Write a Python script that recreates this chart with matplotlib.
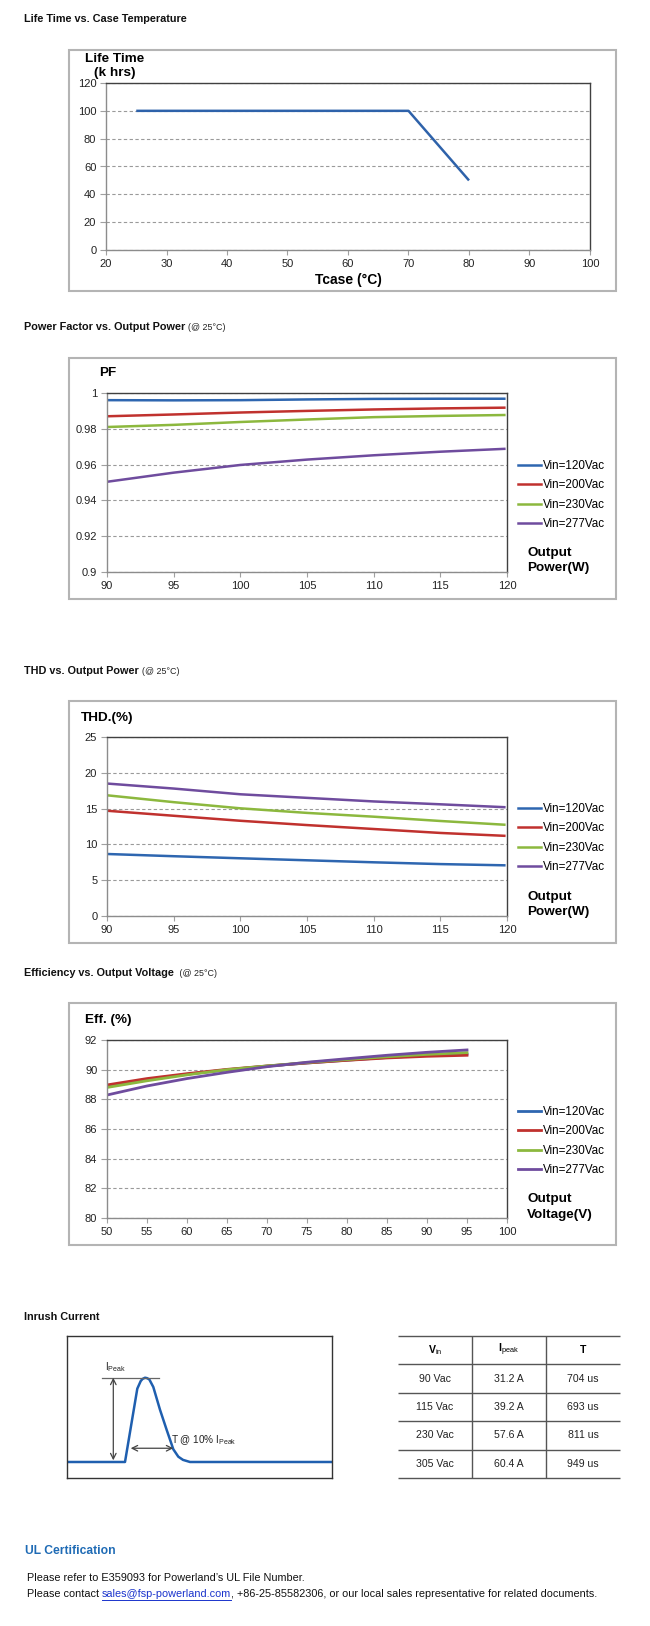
import numpy as np
import matplotlib
matplotlib.use("Agg")
import matplotlib.pyplot as plt
from matplotlib.patches import Rectangle
from matplotlib.lines import Line2D

plt.rcParams['font.family'] = ['Liberation Sans', 'DejaVu Sans']
plt.rcParams['mathtext.fontset'] = 'custom'
plt.rcParams['mathtext.rm'] = 'Liberation Sans'
plt.rcParams['mathtext.it'] = 'Liberation Sans:italic'
plt.rcParams['mathtext.bf'] = 'Liberation Sans:bold'

W, H, DPI = 650, 1626, 100

# ---------------- data ----------------
life_temp = [25, 70, 80]
life_khrs = [100, 100, 50]

vin_labels = ["Vin=120Vac", "Vin=200Vac", "Vin=230Vac", "Vin=277Vac"]
vin_colors = ["#2E66B0", "#C0312E", "#8CB83E", "#6F4C9E"]

pf_power = [90, 95, 100, 105, 110, 115, 119.8]
pf_120 = [0.9960, 0.9959, 0.9960, 0.9964, 0.9967, 0.9968, 0.9968]
pf_200 = [0.9870, 0.9880, 0.9891, 0.9900, 0.9908, 0.9914, 0.9918]
pf_230 = [0.9810, 0.9822, 0.9838, 0.9852, 0.9865, 0.9872, 0.9877]
pf_277 = [0.9504, 0.9555, 0.9598, 0.9628, 0.9652, 0.9672, 0.9688]

thd_power = [90, 95, 100, 105, 110, 115, 119.8]
thd_120 = [8.66, 8.35, 8.06, 7.78, 7.50, 7.25, 7.08]
thd_200 = [14.7, 14.0, 13.3, 12.7, 12.15, 11.6, 11.2]
thd_230 = [16.86, 15.9, 15.04, 14.4, 13.87, 13.27, 12.75]
thd_277 = [18.5, 17.8, 17.0, 16.5, 16.0, 15.6, 15.2]

eff_vout = [50, 55, 60, 65, 70, 75, 80, 85, 90, 95]
eff_120 = [88.88, 89.32, 89.69, 89.99, 90.24, 90.45, 90.64, 90.82, 90.96, 91.05]
eff_200 = [88.97, 89.40, 89.73, 90.02, 90.25, 90.45, 90.63, 90.79, 90.90, 90.97]
eff_230 = [88.80, 89.25, 89.65, 90.00, 90.25, 90.48, 90.68, 90.87, 91.03, 91.15]
eff_277 = [88.29, 88.90, 89.40, 89.82, 90.20, 90.50, 90.74, 90.97, 91.17, 91.33]

# inrush waveform sketch (time in arbitrary units, current relative to peak)
inrush_t = [-58, 0, 12.3, 15.7, 17.5, 20, 22, 24.3, 28.3, 35, 41.7, 48.3, 53.3, 58, 65, 207]
inrush_i = [0, 0, 0.87, 0.96, 0.985, 1.0, 0.995, 0.98, 0.89, 0.62, 0.38, 0.151, 0.063, 0.025, 0.0, 0]

table_head = [r"V$_{\mathrm{in}}$", r"I$_{\mathrm{peak}}$", "T"]
table_vin = ["90 Vac", "115 Vac", "230 Vac", "305 Vac"]
table_ipeak = ["31.2 A", "39.2 A", "57.6 A", "60.4 A"]
table_t = ["704 us", "693 us", "811 us", "949 us"]


# ---------------- helpers ----------------
def rect(left, top, right, bottom):
    return [left / W, 1 - bottom / H, (right - left) / W, (bottom - top) / H]


def fx(x):
    return x / W


def fy(y):
    return 1 - y / H


fig = plt.figure(figsize=(W / DPI, H / DPI), dpi=DPI)
fig.patch.set_facecolor("white")
renderer = fig.canvas.get_renderer()


def title_with_note(x, y, bold, note=None):
    t = fig.text(fx(x), fy(y), bold, fontsize=7.8, fontweight="bold", va="center", color="#111111")
    if note:
        x1 = t.get_window_extent(renderer).x1
        fig.text(x1 / W + 3 / W, fy(y), note, fontsize=6.4, va="center", color="#222222")


def outer_box(left, top, right, bottom):
    fig.add_artist(Rectangle((fx(left), fy(bottom)), (right - left) / W, (bottom - top) / H,
                             transform=fig.transFigure, fill=False, ec="#b4b4b4", lw=1.5))


def style_axes(ax):
    for s in ["top", "right"]:
        ax.spines[s].set_color("#404040")
    for s in ["left", "bottom"]:
        ax.spines[s].set_color("#8c8c8c")
    for s in ax.spines.values():
        s.set_linewidth(1.0)
    ax.tick_params(axis="both", direction="out", color="#a0a0a0", width=0.8,
                   labelsize=8.0, labelcolor="#222222")
    ax.tick_params(axis="y", length=4, pad=3)
    ax.tick_params(axis="x", length=3.5, pad=3)
    ax.yaxis.grid(True, linestyle=(0, (3, 2.2)), color="#9a9a9a", lw=0.8)
    ax.set_axisbelow(True)


def vin_legend(ax, handles, yc):
    ax.legend(handles, vin_labels, loc="center left", bbox_to_anchor=(fx(518), fy(yc)),
              bbox_transform=fig.transFigure, frameon=False, fontsize=8.4,
              handlelength=1.95, handletextpad=0.15, labelspacing=0.62,
              borderpad=0, borderaxespad=0)


def right_label(x, y1, y2, l1, l2):
    fig.text(fx(x), fy(y1), l1, fontsize=9.7, fontweight="bold", va="center")
    fig.text(fx(x), fy(y2), l2, fontsize=9.7, fontweight="bold", va="center")


# ---------------- Life time ----------------
title_with_note(24, 19, "Life Time vs. Case Temperature")
outer_box(69, 50, 616, 291)
ax1 = fig.add_axes(rect(106, 83, 590, 250))
ax1.plot(life_temp, life_khrs, color="#2E62AA", lw=1.8, solid_capstyle="butt")
ax1.set_xlim(20, 100)
ax1.set_ylim(0, 120)
ax1.set_xticks(np.arange(20, 101, 10))
ax1.set_yticks(np.arange(0, 121, 20))
style_axes(ax1)
fig.text(fx(115), fy(59), "Life Time", fontsize=9.7, fontweight="bold", ha="center", va="center")
fig.text(fx(115), fy(73), "(k hrs)", fontsize=9.7, fontweight="bold", ha="center", va="center")
fig.text(fx(348), fy(280), "Tcase (°C)", fontsize=10, fontweight="bold", ha="center", va="center")

# ---------------- Power factor ----------------
title_with_note(24, 327, "Power Factor vs. Output Power", "(@ 25°C)")
outer_box(69, 358, 616, 599)
ax2 = fig.add_axes(rect(107, 393, 507, 572))
h2 = []
for ys, c in zip([pf_120, pf_200, pf_230, pf_277], vin_colors):
    h2 += ax2.plot(pf_power, ys, color=c, lw=1.8)
ax2.set_xlim(90, 120)
ax2.set_ylim(0.9, 1.0)
ax2.set_xticks(np.arange(90, 121, 5))
ax2.set_yticks([0.9, 0.92, 0.94, 0.96, 0.98, 1.0])
ax2.set_yticklabels(["0.9", "0.92", "0.94", "0.96", "0.98", "1"])
style_axes(ax2)
vin_legend(ax2, h2, 495)
fig.text(fx(99), fy(373), "PF", fontsize=9.7, fontweight="bold", va="center")
right_label(527, 553, 568, "Output", "Power(W)")

# ---------------- THD ----------------
title_with_note(24, 671, "THD vs. Output Power", "(@ 25°C)")
outer_box(69, 701, 616, 943)
ax3 = fig.add_axes(rect(107, 737, 507, 916))
h3 = []
for ys, c in zip([thd_120, thd_200, thd_230, thd_277], vin_colors):
    h3 += ax3.plot(thd_power, ys, color=c, lw=1.8)
ax3.set_xlim(90, 120)
ax3.set_ylim(0, 25)
ax3.set_xticks(np.arange(90, 121, 5))
ax3.set_yticks(np.arange(0, 26, 5))
style_axes(ax3)
vin_legend(ax3, h3, 838)
fig.text(fx(81), fy(718), "THD.(%)", fontsize=9.7, fontweight="bold", va="center")
right_label(527, 897, 912, "Output", "Power(W)")

# ---------------- Efficiency ----------------
title_with_note(24, 973, "Efficiency vs. Output Voltage", " (@ 25°C)")
outer_box(69, 1003, 616, 1245)
ax4 = fig.add_axes(rect(107, 1040, 507, 1218))
h4 = []
for ys, c in zip([eff_120, eff_200, eff_230, eff_277], vin_colors):
    h4 += ax4.plot(eff_vout, ys, color=c, lw=2.0)
ax4.set_xlim(50, 100)
ax4.set_ylim(80, 92)
ax4.set_xticks(np.arange(50, 101, 5))
ax4.set_yticks(np.arange(80, 93, 2))
style_axes(ax4)
vin_legend(ax4, h4, 1141)
fig.text(fx(85), fy(1020), "Eff. (%)", fontsize=9.7, fontweight="bold", va="center")
right_label(527, 1199, 1215, "Output", "Voltage(V)")

# ---------------- Inrush current ----------------
title_with_note(24, 1317, "Inrush Current")
ax5 = fig.add_axes(rect(67, 1336, 332, 1478))
ax5.plot(inrush_t, inrush_i, color="#1F5FAF", lw=1.8)
ax5.set_xlim(-58, 207)
ax5.set_ylim(-0.19, 1.495)
ax5.set_xticks([])
ax5.set_yticks([])
for s in ax5.spines.values():
    s.set_color("#333333")
    s.set_linewidth(1.0)
peak = max(inrush_i)
ax5.plot([-23.3, 34.3], [peak, peak], color="#666666", lw=0.9)
ax5.annotate("", xy=(-11.7, 0.02), xytext=(-11.7, peak),
             arrowprops=dict(arrowstyle="<->", color="#444444", lw=0.9, shrinkA=0, shrinkB=0))
ax5.annotate("", xy=(5.7, 0.163), xytext=(48.3, 0.163),
             arrowprops=dict(arrowstyle="<->", color="#444444", lw=0.9, shrinkA=0, shrinkB=0))
ax5.text(-20, 1.13, r"I$_{\mathrm{Peak}}$", fontsize=7.2, va="center", color="#222222")
ax5.text(45.7, 0.26, r"T @ 10% I$_{\mathrm{Peak}}$", fontsize=7.2, va="center", color="#222222")

# table
ax6 = fig.add_axes(rect(398, 1336, 620, 1478))
ax6.set_xlim(0, 3)
ax6.set_ylim(5, 0)
ax6.axis("off")
ax6.hlines(np.arange(0, 6), 0, 3, color="#555555", lw=1.0, clip_on=False)
ax6.vlines([1, 2], 0, 5, color="#555555", lw=1.0, clip_on=False)
for j, head in enumerate(table_head):
    ax6.text(j + 0.5, 0.5, head, ha="center", va="center", fontsize=7.6, fontweight="bold")
for i, row in enumerate(zip(table_vin, table_ipeak, table_t)):
    for j, cell in enumerate(row):
        ax6.text(j + 0.5, i + 1.5, cell, ha="center", va="center", fontsize=7.6, color="#222222")

# ---------------- UL certification ----------------
fig.text(fx(25), fy(1551), "UL Certification", fontsize=8.7, fontweight="bold",
         color="#1F6BB5", va="center")
fig.text(fx(27), fy(1578), "Please refer to E359093 for Powerland’s UL File Number.",
         fontsize=7.8, va="center", color="#111111")
t_a = fig.text(fx(27), fy(1594), "Please contact ", fontsize=7.8, va="center", color="#111111")
xa = t_a.get_window_extent(renderer).x1
t_b = fig.text(xa / W, fy(1594), "sales@fsp-powerland.com", fontsize=7.8, va="center",
               color="#1A33CC")
bb = t_b.get_window_extent(renderer)
fig.add_artist(Line2D([bb.x0 / W, bb.x1 / W], [(bb.y0 - 0.5) / H] * 2,
                      transform=fig.transFigure, color="#1A33CC", lw=0.7))
fig.text(bb.x1 / W, fy(1594),
         ", +86-25-85582306, or our local sales representative for related documents.",
         fontsize=7.8, va="center", color="#111111")

fig.savefig("out.png", dpi=DPI, facecolor="white")
